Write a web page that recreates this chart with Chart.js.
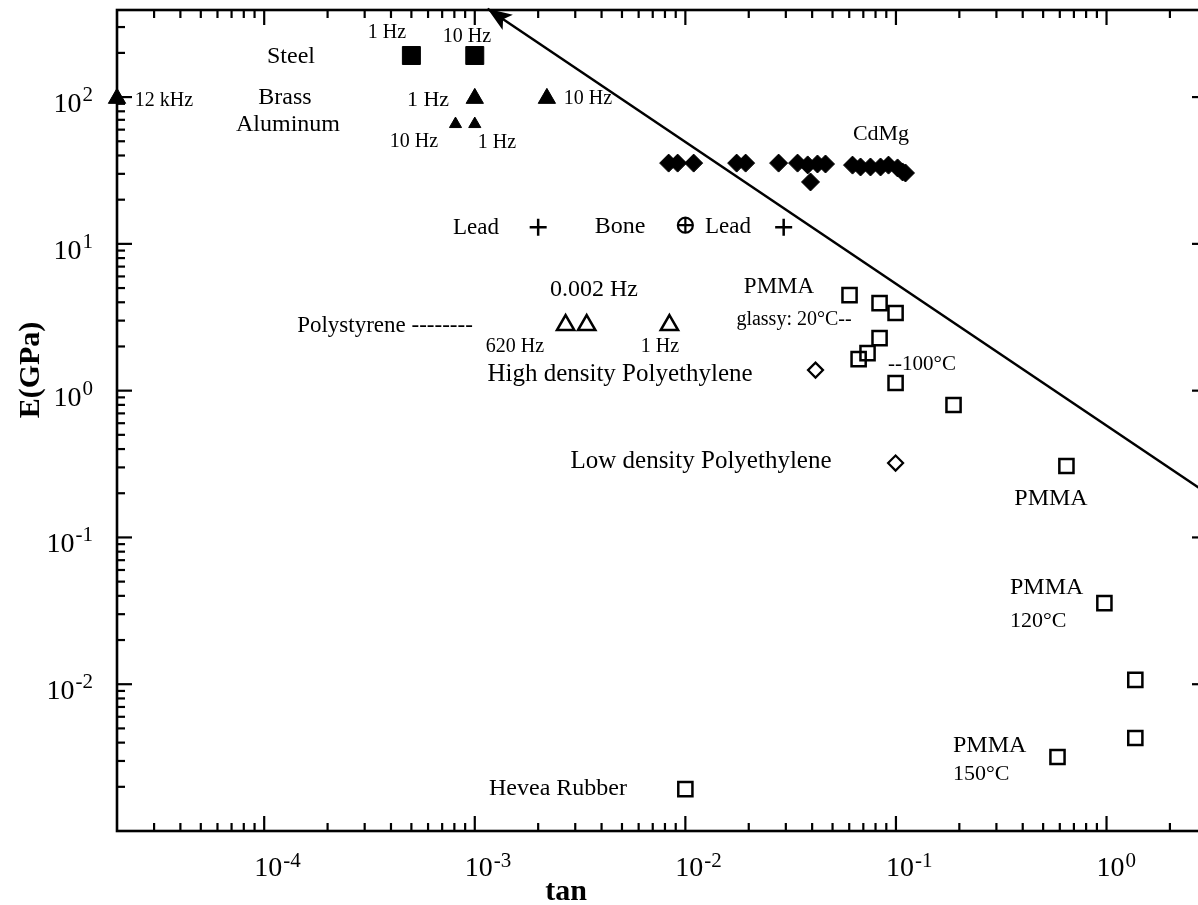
<!DOCTYPE html>
<html>
<head>
<meta charset="utf-8">
<title>E vs tan</title>
<script src="https://cdn.jsdelivr.net/npm/chart.js@4.4.0/dist/chart.umd.min.js"></script>
<style>
  html, body { margin: 0; padding: 0; background: #fff; overflow: hidden; }
  canvas { display: block; }
</style>
</head>
<body>
<!-- lienzo algo mas ancho que la ventana: el eje derecho queda fuera de la imagen -->
<canvas id="modulusChart" width="1212" height="905"></canvas>
<script>
// Modulo E (GPa) frente a tan(delta), escalas log-log

// --- datos ---
const steelX = [5.0e-4, 1.0e-3];
const steelY = [192, 192];

const brassX = [2.0e-5, 1.0e-3, 2.2e-3];
const brassY = [98, 98, 98];

const aluminumX = [8.1e-4, 1.0e-3];
const aluminumY = [65.5, 65.5];

const cdmgX = [0.00833, 0.00919, 0.01095, 0.01752, 0.01933, 0.02772, 0.0341, 0.0381, 0.0393,
               0.0424, 0.0463, 0.0622, 0.0679, 0.0757, 0.0845, 0.0922, 0.1018, 0.1075, 0.111];
const cdmgY = [35.5, 35.5, 35.5, 35.5, 35.5, 35.5, 35.5, 34.5, 26.4,
               35, 35, 34.4, 33.4, 33.4, 33.4, 34.4, 32.9, 30.9, 30.4];

const leadX = [2.0e-3, 0.0293];
const leadY = [13.0, 13.0];

const boneX = [0.01];
const boneY = [13.4];

const polystyreneX = [2.70e-3, 3.40e-3, 8.40e-3];
const polystyreneY = [2.80, 2.80, 2.80];

const polyethyleneX = [0.0415, 0.0996];
const polyethyleneY = [1.38, 0.321];

const pmmaX = [0.0602, 0.0836, 0.0996, 0.0836, 0.0733, 0.0665, 0.0996, 0.1877, 0.645,
               0.977, 1.37, 1.37, 0.585, 0.01];
const pmmaY = [4.48, 3.95, 3.38, 2.28, 1.80, 1.64, 1.127, 0.798, 0.3065,
               0.0357, 0.0107, 0.0043, 0.00319, 0.00193];

const boundX = [1.15e-3, 3];
const boundY = [400, 0.2];

// ejes
const xMin = 2e-5, xMax = 3;
const yMin = 1e-3, yMax = 392;
const xTickExps = [-4, -3, -2, -1, 0];
const yTickExps = [-2, -1, 0, 1, 2];
const minorSteps = [2, 3, 4, 5, 6, 7, 8, 9];

// textos: [texto, x, y, tamano, alineacion]
const notes = [
    ['1 Hz', 387, 33, 20, 'center'],
    ['10 Hz', 467, 37, 20, 'center'],
    ['Steel', 291, 57, 24, 'center'],
    ['Brass', 285, 98, 24, 'center'],
    ['Aluminum', 288, 125, 24, 'center'],
    ['12 kHz', 164, 101, 20, 'center'],
    ['1 Hz', 428, 100, 22, 'center'],
    ['10 Hz', 588, 99, 20, 'center'],
    ['10 Hz', 414, 142, 20, 'center'],
    ['1 Hz', 497, 143, 20, 'center'],
    ['CdMg', 881, 134, 22, 'center'],
    ['Lead', 476, 228, 23, 'center'],
    ['Bone', 620, 227, 24, 'center'],
    ['Lead', 728, 227, 23, 'center'],
    ['0.002 Hz', 594, 290, 24, 'center'],
    ['Polystyrene --------', 385, 326, 23, 'center'],
    ['620 Hz', 515, 347, 20, 'center'],
    ['1 Hz', 660, 347, 20, 'center'],
    ['PMMA', 779, 287, 23, 'center'],
    ['glassy: 20\u00B0C--', 794, 320, 20, 'center'],
    ['--100\u00B0C', 922, 364, 21, 'center'],
    ['High density Polyethylene', 620, 374, 25, 'center'],
    ['Low density Polyethylene', 701, 461, 25, 'center'],
    ['PMMA', 1051, 499, 24, 'center'],
    ['PMMA', 1010, 588, 24, 'left'],
    ['120\u00B0C', 1010, 621, 22, 'left'],
    ['PMMA', 953, 746, 24, 'left'],
    ['150\u00B0C', 953, 774, 22, 'left'],
    ['Hevea Rubber', 558, 789, 24, 'center']
];

const SERIF = '"Liberation Serif", "Times New Roman", serif';

function toPoints(xs, ys) {
    return xs.map((x, i) => ({ x: x, y: ys[i] }));
}

// ejes, marcas hacia dentro, etiquetas 10^n, flecha y textos
const framePlugin = {
    id: 'frame',
    beforeDraw(chart) {
        const ctx = chart.ctx;
        ctx.save();
        ctx.fillStyle = '#fff';
        ctx.fillRect(0, 0, chart.width, chart.height);
        ctx.restore();
    },
    afterDatasetsDraw(chart) {
        const ctx = chart.ctx;
        const a = chart.chartArea;
        const xs = chart.scales.x;
        const ys = chart.scales.y;

        ctx.save();
        ctx.strokeStyle = '#000';
        ctx.fillStyle = '#000';

        // flecha en el extremo superior de la recta
        const meta = chart.getDatasetMeta(chart.data.datasets.length - 1);
        const p0 = meta.data[0], p1 = meta.data[1];
        const ang = Math.atan2(p1.y - p0.y, p1.x - p0.x);
        const L = 26, th = 0.36;
        ctx.beginPath();
        ctx.moveTo(p0.x, p0.y);
        ctx.lineTo(p0.x + L * Math.cos(ang - th), p0.y + L * Math.sin(ang - th));
        ctx.lineTo(p0.x + 0.72 * L * Math.cos(ang), p0.y + 0.72 * L * Math.sin(ang));
        ctx.lineTo(p0.x + L * Math.cos(ang + th), p0.y + L * Math.sin(ang + th));
        ctx.closePath();
        ctx.fill();

        // marco
        ctx.lineWidth = 2.6;
        ctx.strokeRect(a.left, a.top, a.right - a.left, a.bottom - a.top);

        // marcas
        ctx.lineWidth = 2.2;
        const line = (x1, y1, x2, y2) => {
            ctx.beginPath(); ctx.moveTo(x1, y1); ctx.lineTo(x2, y2); ctx.stroke();
        };
        for (let e = -6; e <= 3; e++) {
            [1].concat(minorSteps).forEach(m => {
                const len = m === 1 ? 15 : 8;
                const v = m * Math.pow(10, e);
                if (v > xMin * 1.001 && v < xMax * 0.999) {
                    const px = xs.getPixelForValue(v);
                    line(px, a.bottom, px, a.bottom - len);
                    line(px, a.top, px, a.top + len);
                }
                if (v > yMin * 1.001 && v < yMax * 0.999) {
                    const py = ys.getPixelForValue(v);
                    line(a.left, py, a.left + len, py);
                    line(a.right, py, a.right - len, py);
                }
            });
        }

        // etiquetas de las marcas
        const mainFont = '28px ' + SERIF;
        const supFont = '21px ' + SERIF;
        ctx.textBaseline = 'alphabetic';
        xTickExps.forEach(e => {
            const px = xs.getPixelForValue(Math.pow(10, e));
            ctx.textAlign = 'left';
            ctx.font = mainFont;
            ctx.fillText('10', px - 10, 876);
            const w = ctx.measureText('10').width;
            ctx.font = supFont;
            ctx.fillText(String(e), px - 10 + w + 1, 867);
        });
        yTickExps.forEach(e => {
            const py = ys.getPixelForValue(Math.pow(10, e));
            ctx.textAlign = 'right';
            ctx.font = supFont;
            const s = String(e);
            const we = ctx.measureText(s).width;
            ctx.fillText(s, 93, py + 4);
            ctx.font = mainFont;
            ctx.fillText('10', 93 - we - 1, py + 15);
        });

        // titulos
        ctx.font = 'bold 30px ' + SERIF;
        ctx.textAlign = 'center';
        ctx.fillText('tan', 566, 900);
        ctx.save();
        ctx.translate(39, 370);
        ctx.rotate(-Math.PI / 2);
        ctx.fillText('E(GPa)', 0, 0);
        ctx.restore();

        // anotaciones
        ctx.textBaseline = 'middle';
        notes.forEach(n => {
            ctx.font = n[3] + 'px ' + SERIF;
            ctx.textAlign = n[4];
            ctx.fillText(n[0], n[1], n[2]);
        });
        ctx.restore();
    }
};

function initModulusChart() {
    const ctx = document.getElementById('modulusChart');
    if (!ctx) return;

    const filled = { backgroundColor: '#000', borderColor: '#000', borderWidth: 1 };
    const open = { backgroundColor: 'rgba(255,255,255,0)', borderColor: '#000', borderWidth: 2.5 };

    new Chart(ctx, {
        type: 'scatter',
        data: {
            datasets: [
                Object.assign({ label: 'Steel', data: toPoints(steelX, steelY), pointStyle: 'rect', pointRadius: 12.7 }, filled),
                Object.assign({ label: 'Brass', data: toPoints(brassX, brassY), pointStyle: 'triangle', pointRadius: 10 }, filled),
                Object.assign({ label: 'Aluminum', data: toPoints(aluminumX, aluminumY), pointStyle: 'triangle', pointRadius: 7 }, filled),
                Object.assign({ label: 'CdMg', data: toPoints(cdmgX, cdmgY), pointStyle: 'rectRot', pointRadius: 9 }, filled),
                Object.assign({ label: 'Lead', data: toPoints(leadX, leadY), pointStyle: 'cross', pointRadius: 8.5 }, open),
                Object.assign({ label: 'Bone', data: toPoints(boneX, boneY), pointStyle: 'circle', pointRadius: 7.5 }, open, { borderWidth: 2.2 }),
                Object.assign({ label: 'Bone+', data: toPoints(boneX, boneY), pointStyle: 'cross', pointRadius: 7.5 }, open, { borderWidth: 2.2 }),
                Object.assign({ label: 'Polystyrene', data: toPoints(polystyreneX, polystyreneY), pointStyle: 'triangle', pointRadius: 10 }, open),
                Object.assign({ label: 'Polyethylene', data: toPoints(polyethyleneX, polyethyleneY), pointStyle: 'rectRot', pointRadius: 7.5 }, open, { borderWidth: 2.2 }),
                Object.assign({ label: 'PMMA', data: toPoints(pmmaX, pmmaY), pointStyle: 'rect', pointRadius: 10 }, open),
                {
                    type: 'line',
                    label: 'limite',
                    data: toPoints(boundX, boundY),
                    borderColor: '#000',
                    borderWidth: 2.5,
                    pointRadius: 0,
                    fill: false,
                    tension: 0
                }
            ].map(d => Object.assign(d, { clip: false, pointHoverRadius: d.pointRadius }))
        },
        options: {
            responsive: false,
            animation: false,
            events: [],
            // sin autoPadding, para que el area quede donde dice el padding
            layout: { autoPadding: false, padding: { top: 10, right: 5, left: 0, bottom: 0 } },
            plugins: {
                legend: { display: false },
                tooltip: { enabled: false }
            },
            scales: {
                x: {
                    type: 'logarithmic',
                    min: xMin,
                    max: xMax,
                    grid: { display: false },
                    border: { display: false },
                    ticks: { display: false },
                    afterFit: function(scale) { scale.height = 74; }
                },
                y: {
                    type: 'logarithmic',
                    min: yMin,
                    max: yMax,
                    grid: { display: false },
                    border: { display: false },
                    ticks: { display: false },
                    afterFit: function(scale) { scale.width = 117; }
                }
            }
        },
        plugins: [framePlugin]
    });
}

document.addEventListener('DOMContentLoaded', initModulusChart);
</script>
</body>
</html>
